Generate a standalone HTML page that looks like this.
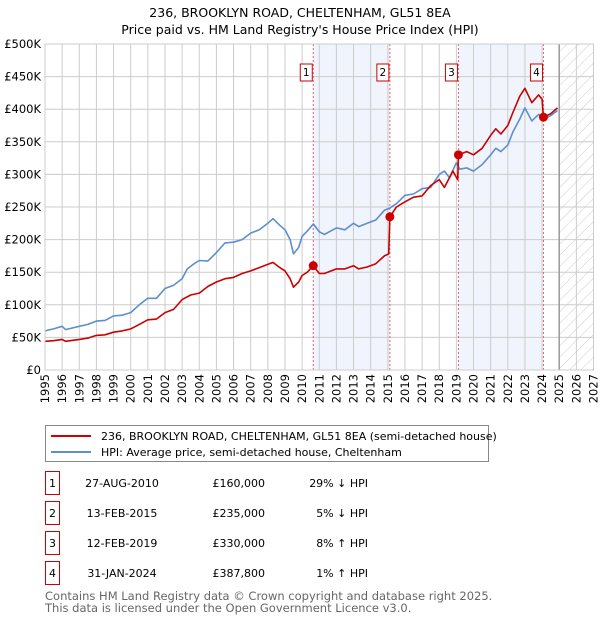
<!DOCTYPE html>
<html><head><meta charset="utf-8"><style>
body{margin:0;background:#fff;font-family:"Liberation Sans","DejaVu Sans",sans-serif;}
svg{display:block}
</style></head><body>
<svg id="c" width="600" height="620" xmlns="http://www.w3.org/2000/svg" font-family="'DejaVu Sans','Liberation Sans',sans-serif">
<defs><pattern id="hatch" width="8" height="8" patternUnits="userSpaceOnUse" patternTransform="rotate(45)"><line x1="0" y1="0" x2="0" y2="8" stroke="#ccc" stroke-width="1"/></pattern></defs>
<text x="300" y="17" text-anchor="middle" font-size="12.5">236, BROOKLYN ROAD, CHELTENHAM, GL51 8EA</text>
<text x="300" y="34" text-anchor="middle" font-size="12.5">Price paid vs. HM Land Registry's House Price Index (HPI)</text>
<g id="plot"></g>
<g>
<rect x="45.5" y="425.5" width="443" height="36" fill="#fff" stroke="#888"/>
<line x1="51" y1="436" x2="91" y2="436" stroke="#cc0000" stroke-width="2"/>
<text x="101" y="440" font-size="11">236, BROOKLYN ROAD, CHELTENHAM, GL51 8EA (semi-detached house)</text>
<line x1="51" y1="452" x2="91" y2="452" stroke="#5b8fd0" stroke-width="2"/>
<text x="101" y="456" font-size="11">HPI: Average price, semi-detached house, Cheltenham</text>
</g>
<g id="table" font-size="11"></g>
<text x="45" y="600" font-size="11.5" fill="#666">Contains HM Land Registry data © Crown copyright and database right 2025.</text>
<text x="45" y="612" font-size="11.5" fill="#666">This data is licensed under the Open Government Licence v3.0.</text>
</svg>
<script>
const hpiYears=[1995,1995.5,1996,1996.2,1997,1997.5,1998,1998.5,1999,1999.5,2000,2000.5,2001,2001.5,2002,2002.5,2003,2003.3,2003.7,2004,2004.5,2005,2005.5,2006,2006.5,2007,2007.5,2008,2008.3,2008.7,2009,2009.3,2009.5,2009.8,2010,2010.3,2010.65,2011,2011.3,2012,2012.5,2013,2013.3,2013.8,2014.3,2014.8,2015.1,2015.5,2016,2016.5,2017,2017.5,2018,2018.3,2018.6,2019,2019.2,2019.6,2020,2020.5,2021,2021.3,2021.6,2022,2022.3,2022.7,2023,2023.4,2023.8,2024.1,2024.5,2024.9];
const hpiValues=[60,63,67,62,67,70,75,76,83,84,88,100,110,110,125,130,140,155,163,168,167,180,195,196,200,210,215,225,232,222,215,200,178,188,205,213,224,212,208,218,215,225,220,225,230,245,248,255,268,270,278,280,300,305,295,318,308,310,305,315,330,340,335,345,365,385,402,382,392,385,390,398];
const propYears=[1995,1995.5,1996,1996.2,1997,1997.5,1998,1998.5,1999,1999.5,2000,2000.5,2001,2001.5,2002,2002.5,2003,2003.5,2004,2004.5,2005,2005.5,2006,2006.5,2007,2007.5,2008,2008.3,2008.7,2009,2009.3,2009.5,2009.8,2010,2010.3,2010.65,2011,2011.3,2012,2012.5,2013,2013.3,2013.8,2014.3,2014.8,2015.05,2015.12,2015.5,2016,2016.5,2017,2017.5,2018,2018.3,2018.8,2019.08,2019.12,2019.6,2020,2020.5,2021,2021.3,2021.6,2022,2022.3,2022.7,2023,2023.4,2023.8,2024.0,2024.08,2024.5,2024.9];
const propValues=[44,45,47,44,47,49,53,54,58,60,63,70,77,78,88,93,108,115,118,128,135,140,142,148,152,157,162,165,157,152,140,127,135,145,150,160,148,148,155,155,160,155,158,163,175,178,235,250,258,265,267,283,292,280,305,292,330,335,330,340,360,370,362,375,395,420,432,410,422,415,388,393,402];
const saleYears=[2010.65,2015.12,2019.12,2024.08];
const saleValues=[160,235,330,387.8];
const saleDates=["27-AUG-2010","13-FEB-2015","12-FEB-2019","31-JAN-2024"];
const salePrices=["£160,000","£235,000","£330,000","£387,800"];
const saleHpi=["29% ↓ HPI","5% ↓ HPI","8% ↑ HPI","1% ↑ HPI"];
const yTicks=[0,50,100,150,200,250,300,350,400,450,500];
const yTickLabels=["£0","£50K","£100K","£150K","£200K","£250K","£300K","£350K","£400K","£450K","£500K"];
const NS="http://www.w3.org/2000/svg";
const L=45,R=593.5,T=44,B=370,X0=1995,X1=2027,NOW=2025.0;
const x=v=>L+(v-X0)/(X1-X0)*(R-L);
const y=v=>B-v/500*(B-T);
const g=document.getElementById('plot');
function mk(t,a,p){const e=document.createElementNS(NS,t);for(const k in a)e.setAttribute(k,a[k]);(p||g).appendChild(e);return e;}
// shaded periods
for(let i=0;i<4;i+=2){const r=mk('rect',{x:x(saleYears[i]),y:T,width:x(saleYears[i+1])-x(saleYears[i]),height:B-T,fill:'#eef3fc',opacity:0.9});

}
// hatch future
const h=mk('rect',{x:x(NOW),y:T,width:R-x(NOW),height:B-T,fill:'url(#hatch)'});


// grid
for(let yr=X0;yr<=X1;yr++){const l=mk('line',{x1:x(yr),x2:x(yr),y1:T,y2:B,stroke:'#ccc','stroke-width':1});


const t=mk('text',{transform:`translate(${x(yr)+4},374) rotate(-90)`,'text-anchor':'end','font-size':11.5});t.textContent=yr;

}
yTicks.forEach((v,i)=>{const l=mk('line',{x1:L,x2:R,y1:y(v),y2:y(v),stroke:'#ccc','stroke-width':1});


const t=mk('text',{x:41,y:y(v)+4,'text-anchor':'end','font-size':11.5});t.textContent=yTickLabels[i];

});
const nl=mk('line',{x1:x(NOW),x2:x(NOW),y1:T,y2:B,stroke:'#999','stroke-width':1.5});


// sale vlines + labels
saleYears.forEach((s,i)=>{const l=mk('line',{x1:x(s),x2:x(s),y1:T,y2:B,stroke:'#e06666','stroke-width':1,'stroke-dasharray':'2,2'});


const bx=mk('rect',{x:x(s)-13,y:64,width:12,height:17,fill:'#fff',stroke:'#cc0000'});


const t=mk('text',{x:x(s)-7,y:76,'text-anchor':'middle','font-size':10.5});t.textContent=i+1;

});
function path(xs,vs,c,n){const d=xs.map((v,i)=>(i?'L':'M')+x(v).toFixed(1)+','+y(vs[i]).toFixed(1)).join('');
const p=mk('path',{d,fill:'none',stroke:c,'stroke-width':1.6,'stroke-linejoin':'round'});

}
path(hpiYears,hpiValues,'#5b8fd0','hpi-line');
path(propYears,propValues,'#cc0000','property-line');
saleYears.forEach((s,i)=>{const c=mk('circle',{cx:x(s),cy:y(saleValues[i]),r:4.5,fill:'#cc0000'});

});
const fr=mk('rect',{x:L,y:T,width:R-L,height:B-T,fill:'none',stroke:'#ccc'});


// table
const tb=document.getElementById('table');
saleDates.forEach((d,i)=>{const cy=483+i*30;
const bx=mk('rect',{x:45.5,y:cy-11.5,width:14,height:23,fill:'#fff',stroke:'#cc0000'},tb);


const vals=[[52.5,'middle',i+1],[122,'middle',d],[265,'end',salePrices[i]],[368,'end',saleHpi[i]]];
vals.forEach(v=>{const t=mk('text',{x:v[0],y:cy+4,'text-anchor':v[1],'font-size':11},tb);t.textContent=v[2];

});});
</script>
</body></html>
